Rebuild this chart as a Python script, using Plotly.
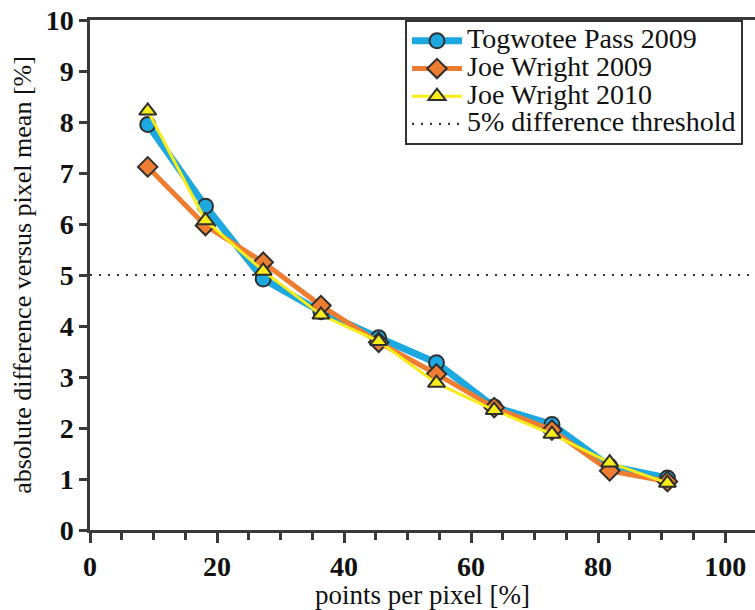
import plotly.graph_objects as go

# ---- data ----
points_per_pixel = [9.09, 18.18, 27.27, 36.36, 45.45, 54.55, 63.64, 72.73, 81.82, 90.91]
togwotee_2009 = [7.95, 6.35, 4.92, 4.28, 3.77, 3.28, 2.41, 2.07, 1.25, 1.02]
joe_wright_2009 = [7.12, 5.97, 5.25, 4.40, 3.68, 3.06, 2.40, 1.96, 1.16, 0.95]
joe_wright_2010 = [8.22, 6.07, 5.08, 4.22, 3.70, 2.88, 2.35, 1.88, 1.32, 0.92]
threshold = 5
x_ticks = [0, 20, 40, 60, 80, 100]
y_ticks = [0, 1, 2, 3, 4, 5, 6, 7, 8, 9, 10]

SERIF = "Liberation Serif, Times New Roman, serif"
AX = "#3a3a3a"
BLUE = "#1DA8E0"
ORANGE = "#EE7D31"
YELLOW = "#F8EC1A"
EDGE = "#2f2f2f"


def lg(name):
    return '<span style="font-size:28px">' + name + '</span>'


fig = go.Figure()
fig.add_trace(go.Scatter(
    x=points_per_pixel, y=togwotee_2009, name=lg("Togwotee Pass 2009"),
    mode="lines+markers",
    line=dict(color=BLUE, width=7),
    marker=dict(symbol="circle", size=15, color=BLUE, line=dict(color=EDGE, width=2)),
))
fig.add_trace(go.Scatter(
    x=points_per_pixel, y=joe_wright_2009, name=lg("Joe Wright 2009"),
    mode="lines+markers",
    line=dict(color=ORANGE, width=5),
    marker=dict(symbol="diamond", size=15, color=ORANGE, line=dict(color=EDGE, width=2)),
))
fig.add_trace(go.Scatter(
    x=points_per_pixel, y=joe_wright_2010, name=lg("Joe Wright 2010"),
    mode="lines+markers",
    line=dict(color=YELLOW, width=3),
    marker=dict(symbol="triangle-up", size=15, color=YELLOW, line=dict(color=EDGE, width=2)),
))

fig.add_shape(
    type="line", xref="x domain", x0=0, x1=1, yref="y", y0=threshold, y1=threshold,
    line=dict(color="#333333", width=2.2, dash="2px,7px"),
    showlegend=True, name=lg("5% difference threshold"), layer="below",
)

fig.update_layout(
    width=755, height=610,
    margin=dict(l=90, r=0, t=20, b=80),
    paper_bgcolor="white", plot_bgcolor="white",
    font=dict(family=SERIF, color="#111111"),
    xaxis=dict(
        range=[0, 104.7], tickvals=x_ticks, ticks="outside", ticklen=10, tickwidth=2.5,
        tickcolor=AX, showline=True, linecolor=AX, linewidth=2.5, mirror=True,
        showgrid=False, zeroline=False,
        minor=dict(dtick=5, tick0=0, ticks="outside", ticklen=7, tickwidth=2.5, tickcolor=AX, showgrid=False),
        tickfont=dict(family=SERIF, size=28, weight="bold", color="#111111"),
        title=dict(text="points per pixel [%]", font=dict(family=SERIF, size=27, color="#111111"), standoff=4),
    ),
    xaxis2=dict(
        range=[0, 104.7], overlaying="x", anchor="y", side="bottom",
        tickvals=x_ticks, ticks="inside", ticklen=9, tickwidth=2.5, tickcolor=AX,
        showticklabels=False, showline=False, showgrid=False, zeroline=False,
    ),
    yaxis=dict(
        range=[0, 10], tickvals=y_ticks, ticks="outside", ticklen=8, tickwidth=2.5,
        tickcolor=AX, showline=True, linecolor=AX, linewidth=2.5,
        showgrid=False, zeroline=False,
        tickfont=dict(family=SERIF, size=28, weight="bold", color="#111111"),
        title=dict(text="absolute difference versus pixel mean [%]",
                   font=dict(family=SERIF, size=26, color="#111111"), standoff=7),
    ),
    legend=dict(
        x=0.4737, y=1, xanchor="left", yanchor="top",
        font=dict(family=SERIF, size=19, color="#111111"),
        bgcolor="white", bordercolor="#333333", borderwidth=2,
        itemwidth=50, tracegroupgap=0,
    ),
)

fig.write_html(
    "out.html",
    config={"displayModeBar": False},
    post_script="document.body.style.margin='0';document.body.style.overflow='hidden';",
)
